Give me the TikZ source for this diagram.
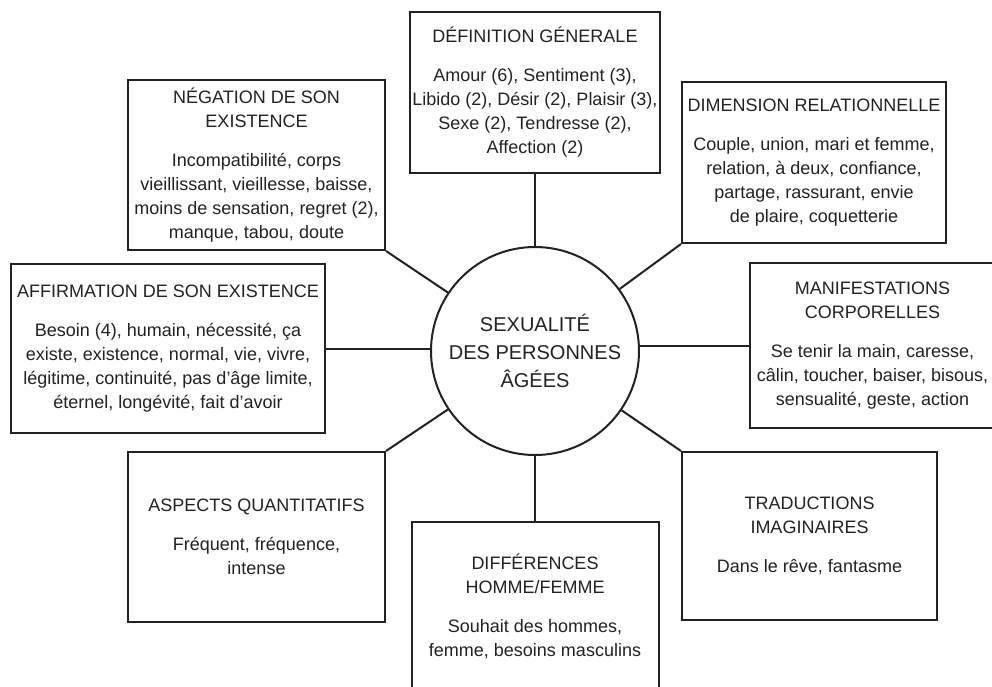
\documentclass[tikz,border=0pt]{standalone}
\usepackage{fontspec}
\setmainfont{Liberation Sans}
\definecolor{ink}{HTML}{222222}
\begin{document}
\begin{tikzpicture}[x=1pt,y=-1pt,
  box/.style={draw=ink, line width=2pt, rectangle, align=center, inner sep=0pt,
    text=ink, font=\fontsize{18}{24}\selectfont},
  hub/.style={draw=ink, line width=2pt, circle, minimum size=208pt, inner sep=0pt,
    align=center, text=ink, font=\fontsize{20}{28}\selectfont},
  link/.style={draw=ink, line width=2pt}]
\useasboundingbox (0,0) rectangle (992,686);
\fill[white] (0,0) rectangle (992,686);

\node[hub] (c) at (535,351) {SEXUALITÉ\\DES PERSONNES\\ÂGÉES};

\node[box, minimum width=250pt, minimum height=161pt] (def) at (535,92.5)
  {DÉFINITION GÉNERALE\\[15pt]Amour (6), Sentiment (3),\\Libido (2), Désir (2), Plaisir (3),\\Sexe (2), Tendresse (2),\\Affection (2)};

\node[box, minimum width=257pt, minimum height=170pt] (neg) at (256.5,165)
  {NÉGATION DE SON\\EXISTENCE\\[15pt]Incompatibilité, corps\\vieillissant, vieillesse, baisse,\\moins de sensation, regret (2),\\manque, tabou, doute};

\node[box, minimum width=264pt, minimum height=161pt] (dim) at (814,162.5)
  {DIMENSION RELATIONNELLE\\[15pt]Couple, union, mari et femme,\\relation, à deux, confiance,\\partage, rassurant, envie\\de plaire, coquetterie};

\node[box, minimum width=314pt, minimum height=169pt] (aff) at (168,348.5)
  {AFFIRMATION DE SON EXISTENCE\\[15pt]Besoin (4), humain, nécessité, ça\\existe, existence, normal, vie, vivre,\\légitime, continuité, pas d'âge limite,\\éternel, longévité, fait d'avoir};

\node[box, minimum width=245pt, minimum height=165pt] (man) at (872.5,345.5)
  {MANIFESTATIONS\\CORPORELLES\\[15pt]Se tenir la main, caresse,\\câlin, toucher, baiser, bisous,\\sensualité, geste, action};

\node[box, minimum width=257pt, minimum height=170pt] (asp) at (256.5,537)
  {ASPECTS QUANTITATIFS\\[15pt]Fréquent, fréquence,\\intense};

\node[box, minimum width=247pt, minimum height=168pt] (dif) at (535,606)
  {DIFFÉRENCES\\HOMME/FEMME\\[15pt]Souhait des hommes,\\femme, besoins masculins};

\node[box, minimum width=255pt, minimum height=168pt] (tra) at (809.5,536)
  {TRADUCTIONS\\IMAGINAIRES\\[15pt]Dans le rêve, fantasme};

\draw[link] (def) -- (c);
\draw[link] (dif) -- (c);
\draw[link] (neg.south east) -- (c);
\draw[link] (dim.south west) -- (c);
\draw[link] (asp.north east) -- (c);
\draw[link] (tra.north west) -- (c);
\draw[link] (aff.east) -- (aff.east -| c.west);
\draw[link] (man.west) -- (man.west -| c.east);
\end{tikzpicture}
\end{document}
